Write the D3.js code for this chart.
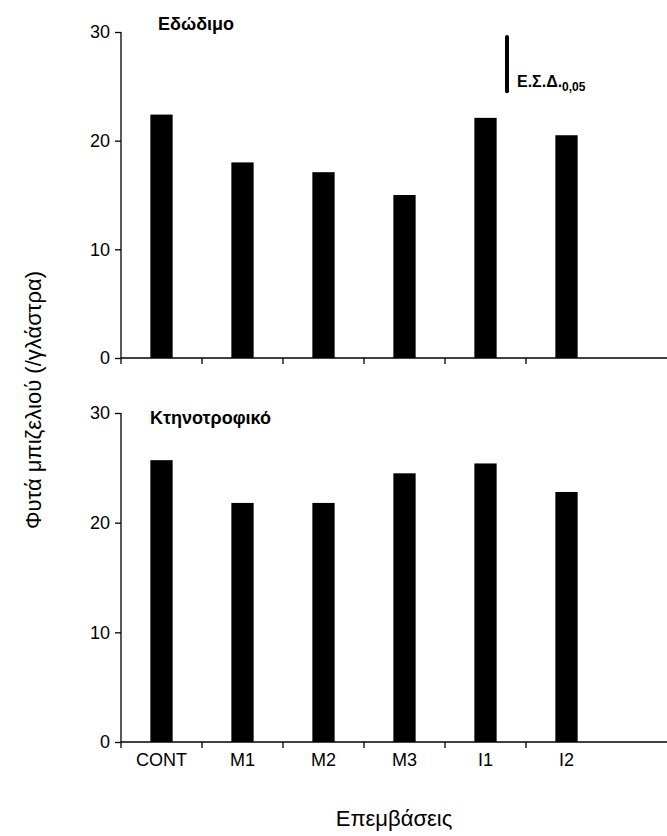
<!DOCTYPE html>
<html>
<head>
<meta charset="utf-8">
<script src="https://cdn.jsdelivr.net/npm/d3@7"></script>
<style>
  body { margin: 0; background: #fff; }
  text { font-family: "Liberation Sans", Arial, sans-serif; fill: #000; }
  .axis path, .axis line { stroke: #000; stroke-width: 1.3; }
  .axis text { font-size: 18px; }
</style>
</head>
<body>
<div id="chart"></div>
<script>
// data
var treatments = ["CONT", "M1", "M2", "M3", "I1", "I2"];
var edible = [22.4, 18.0, 17.1, 15.0, 22.1, 20.5];     // Εδώδιμο
var fodder = [25.7, 21.8, 21.8, 24.5, 25.4, 22.8];     // Κτηνοτροφικό
var lsd = 5.0;                                          // Ε.Σ.Δ. 0,05
var yTicks = [0, 10, 20, 30];

var svgWidth = 667;
var svgHeight = 836;
var svg = d3.select("#chart")
  .append("svg")
  .attr("width", svgWidth)
  .attr("height", svgHeight);

var x = d3.scaleBand()
  .domain(treatments)
  .range([121, 607])
  .padding(0);
var barW = x.bandwidth() * 0.275;

var panels = [
  { title: "Εδώδιμο", values: edible, top: 32, bottom: 358, labels: false, tx: 158, ty: 30 },
  { title: "Κτηνοτροφικό", values: fodder, top: 413, bottom: 742, labels: true, tx: 150, ty: 424 }
];

panels.forEach(function(p, i) {
  var y = d3.scaleLinear().domain([0, 30]).range([p.bottom, p.top]);
  var g = svg.append("g");

  // bars
  g.selectAll("rect")
    .data(p.values)
    .enter()
    .append("rect")
    .attr("x", (d, j) => x(treatments[j]) + x.bandwidth() / 2 - barW / 2)
    .attr("width", barW)
    .attr("y", d => y(d))
    .attr("height", d => y(0) - y(d))
    .attr("fill", "#000");

  // y axis
  var leftAxis = d3.axisLeft(y).tickValues(yTicks).tickSize(6).tickPadding(5);
  g.append("g")
    .attr("class", "axis")
    .attr("transform", "translate(121,0)")
    .call(leftAxis)
    .call(a => a.select(".domain").attr("d", `M0,${p.top}V${p.bottom}`));

  // x axis: ticks at left edge of each band, line runs off the right edge
  var xa = g.append("g").attr("class", "axis");
  xa.append("line")
    .attr("x1", 121).attr("x2", svgWidth)
    .attr("y1", p.bottom).attr("y2", p.bottom);
  xa.selectAll(".tk")
    .data(treatments)
    .enter()
    .append("line")
    .attr("class", "tk")
    .attr("x1", d => x(d)).attr("x2", d => x(d))
    .attr("y1", p.bottom).attr("y2", p.bottom + 6);
  if (p.labels) {
    xa.selectAll(".lb")
      .data(treatments)
      .enter()
      .append("text")
      .attr("class", "lb")
      .attr("x", d => x(d) + x.bandwidth() / 2)
      .attr("y", p.bottom + 24)
      .attr("text-anchor", "middle")
      .text(d => d);
  }

  // panel title
  g.append("text")
    .attr("x", p.tx)
    .attr("y", p.ty)
    .attr("font-size", "18px")
    .attr("font-weight", "bold")
    .text(p.title);

  // LSD bar on the first panel
  if (i === 0) {
    var ly = 37;
    g.append("line")
      .attr("x1", 507).attr("x2", 507)
      .attr("y1", ly)
      .attr("y2", ly + (y(0) - y(lsd)))
      .attr("stroke", "#000")
      .attr("stroke-width", 4)
      .attr("stroke-linecap", "round");
    var t = g.append("text")
      .attr("x", 517)
      .attr("y", 87)
      .attr("font-size", "16px")
      .attr("font-weight", "bold");
    t.append("tspan").text("Ε.Σ.Δ.");
    t.append("tspan").attr("font-size", "12px").attr("dy", 4).text("0,05");
  }
});

// axis titles
svg.append("text")
  .attr("transform", "translate(41,400) rotate(-90)")
  .attr("text-anchor", "middle")
  .attr("font-size", "22px")
  .text("Φυτά μπιζελιού (/γλάστρα)");

svg.append("text")
  .attr("x", 394)
  .attr("y", 826)
  .attr("text-anchor", "middle")
  .attr("font-size", "22px")
  .text("Επεμβάσεις");
</script>
</body>
</html>
